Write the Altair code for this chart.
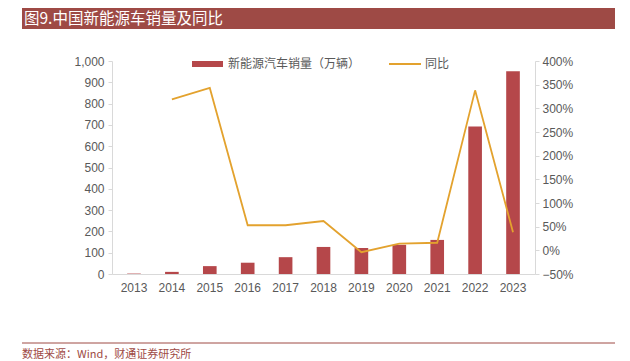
import altair as alt
import pandas as pd

years = ["2013", "2014", "2015", "2016", "2017", "2018", "2019", "2020", "2021", "2022", "2023"]
sales = [2, 10, 37, 53, 79, 127, 122, 137, 160, 692, 952]
yoy = [None, 3.19, 3.43, 0.53, 0.53, 0.62, -0.04, 0.14, 0.16, 3.38, 0.38]
left_ticks = [0, 100, 200, 300, 400, 500, 600, 700, 800, 900, 1000]
right_ticks = [-0.5, 0, 0.5, 1.0, 1.5, 2.0, 2.5, 3.0, 3.5, 4.0]

title_text = "图9.中国新能源车销量及同比"
source_text = "数据来源：Wind，财通证券研究所"
legend_bar = "新能源汽车销量（万辆）"
legend_line = "同比"

BAR = "#B5474A"
LINE = "#E3A22E"
BRAND = "#9E4A45"
AX = "#D9D9D9"
LBL = "#595959"
FONT = "Liberation Sans"
CJK = "Noto Sans CJK SC"

df = pd.DataFrame({"year": years, "sales": sales, "yoy": yoy})

W, H = 423, 213

xenc = alt.X("year:N", sort=years, title=None,
             scale=alt.Scale(paddingInner=0.64, paddingOuter=0.4),
             axis=alt.Axis(labelAngle=0, ticks=False, domainColor=AX, labelColor=LBL,
                           labelFont=FONT, labelFontSize=12, labelPadding=8, grid=False))

bars = alt.Chart(df).mark_bar(color=BAR).encode(
    x=xenc,
    y=alt.Y("sales:Q", title=None,
            scale=alt.Scale(domain=[0, 1000], nice=False),
            axis=alt.Axis(values=left_ticks, format=",.0f", grid=False, domainColor=AX,
                          tickColor=AX, tickSize=4, labelColor=LBL, labelFont=FONT,
                          labelFontSize=12, labelPadding=4)),
)

line = alt.Chart(df).mark_line(color=LINE, strokeWidth=1.8).encode(
    x=alt.X("year:N", sort=years),
    y=alt.Y("yoy:Q", title=None,
            scale=alt.Scale(domain=[-0.5, 4.0], nice=False),
            axis=alt.Axis(orient="right", values=right_ticks, format=".0%", grid=False,
                          domainColor=AX, tickColor=AX, tickSize=4, labelColor=LBL,
                          labelFont=FONT, labelFontSize=12, labelPadding=3)),
)

one = alt.Data(values=[{"a": 1}])

banner = alt.Chart(one).mark_rect(color=BRAND).encode(
    x=alt.value(-90), x2=alt.value(503), y=alt.value(-53), y2=alt.value(-32))
title = alt.Chart(one).mark_text(color="white", font=CJK, fontSize=15.5, align="left",
                                 baseline="middle").encode(
    x=alt.value(-88), y=alt.value(-42), text=alt.value(title_text))

leg_rect = alt.Chart(one).mark_rect(color=BAR).encode(
    x=alt.value(80), x2=alt.value(111), y=alt.value(0), y2=alt.value(6))
leg_t1 = alt.Chart(one).mark_text(color=LBL, font=CJK, fontSize=12, align="left",
                                  baseline="middle").encode(
    x=alt.value(116), y=alt.value(3), text=alt.value(legend_bar))
leg_line = alt.Chart(one).mark_rule(color=LINE, strokeWidth=2).encode(
    x=alt.value(277), x2=alt.value(309), y=alt.value(3))
leg_t2 = alt.Chart(one).mark_text(color=LBL, font=CJK, fontSize=12, align="left",
                                  baseline="middle").encode(
    x=alt.value(313), y=alt.value(3), text=alt.value(legend_line))

foot_rule = alt.Chart(one).mark_rule(color=BRAND, strokeWidth=1).encode(
    x=alt.value(-90), x2=alt.value(503), y=alt.value(282))
foot_text = alt.Chart(one).mark_text(color=BRAND, font=CJK, fontSize=11, align="left",
                                     baseline="middle").encode(
    x=alt.value(-90), y=alt.value(294), text=alt.value(source_text))

main = alt.layer(bars, line).resolve_scale(y="independent")

chart = alt.layer(
    main, banner, title, leg_rect, leg_t1, leg_line, leg_t2, foot_rule, foot_text
).properties(
    width=W, height=H,
    autosize=alt.AutoSizeParams(type="none"),
    padding={"left": 104, "top": 53, "right": 86, "bottom": 87},
    background="white",
).configure_view(stroke=None)

chart.save("out.html", embed_options={"renderer": "svg", "actions": False})
